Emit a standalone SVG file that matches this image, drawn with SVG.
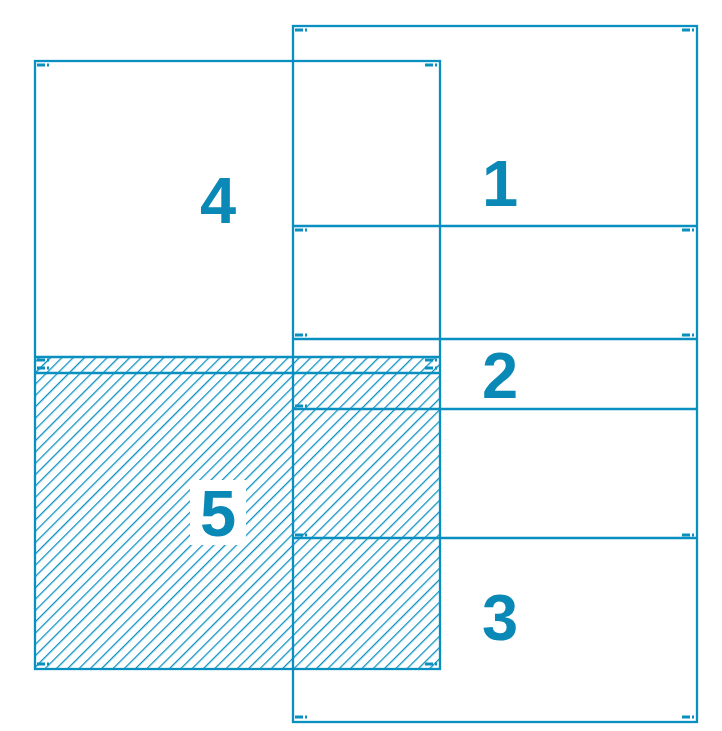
<svg xmlns="http://www.w3.org/2000/svg" width="722" height="731" viewBox="0 0 722 731">
<style>
.ln{fill:none;stroke:#0990c0;stroke-width:2.3}
.mk{fill:#0990c0}
.num{font-family:"Liberation Sans",Arial,sans-serif;font-weight:bold;font-size:65px;fill:#0a88b6;text-anchor:middle}
</style>
<defs>
<pattern id="hatch" patternUnits="userSpaceOnUse" width="8" height="8" patternTransform="rotate(45)">
<line x1="0" y1="0" x2="0" y2="8" stroke="#0990c0" stroke-width="2.6"/>
</pattern>
<g id="ml"><rect x="0" y="-1.5" width="8" height="3"/><rect x="10" y="-1.5" width="2" height="3"/></g>
<g id="mr"><rect x="-12" y="-1.5" width="8" height="3"/><rect x="-2" y="-1.5" width="2" height="3"/></g>
</defs>
<rect width="722" height="731" fill="#fff"/>
<g id="hatched-area">
<rect x="35" y="357" width="405" height="312" fill="url(#hatch)"/>
</g>
<g id="connectors" class="ln">
<rect x="293" y="26" width="404" height="696"/>
<line x1="293" y1="226" x2="697" y2="226"/>
<line x1="293" y1="339" x2="697" y2="339"/>
<line x1="293" y1="409" x2="697" y2="409"/>
<line x1="293" y1="538" x2="697" y2="538"/>
<rect x="35" y="61" width="405" height="608"/>
<line x1="35" y1="357" x2="440" y2="357"/>
<line x1="35" y1="373" x2="440" y2="373"/>
</g>
<g id="marks" class="mk">
<use href="#ml" x="295" y="30"/><use href="#mr" x="694" y="30"/>
<use href="#ml" x="295" y="230"/><use href="#mr" x="694" y="230"/>
<use href="#ml" x="295" y="335"/><use href="#mr" x="694" y="335"/>
<use href="#ml" x="295" y="406"/>
<use href="#ml" x="295" y="535"/><use href="#mr" x="694" y="535"/>
<use href="#ml" x="295" y="717"/><use href="#mr" x="694" y="717"/>
<use href="#ml" x="37" y="65"/><use href="#mr" x="437" y="65"/>
<use href="#ml" x="37" y="360"/><use href="#mr" x="437" y="360"/>
<use href="#ml" x="37" y="368"/><use href="#mr" x="437" y="368"/>
<use href="#ml" x="37" y="664"/><use href="#mr" x="437" y="664"/>
</g>
<g id="node-1"><text class="num" x="500" y="206">1</text></g>
<g id="node-2"><text class="num" x="500" y="398">2</text></g>
<g id="node-3"><text class="num" x="500" y="640">3</text></g>
<g id="node-4"><text class="num" x="218" y="223">4</text></g>
<g id="node-5"><rect x="190" y="480" width="56" height="65" fill="#fff"/><text class="num" x="218" y="536">5</text></g>
</svg>
